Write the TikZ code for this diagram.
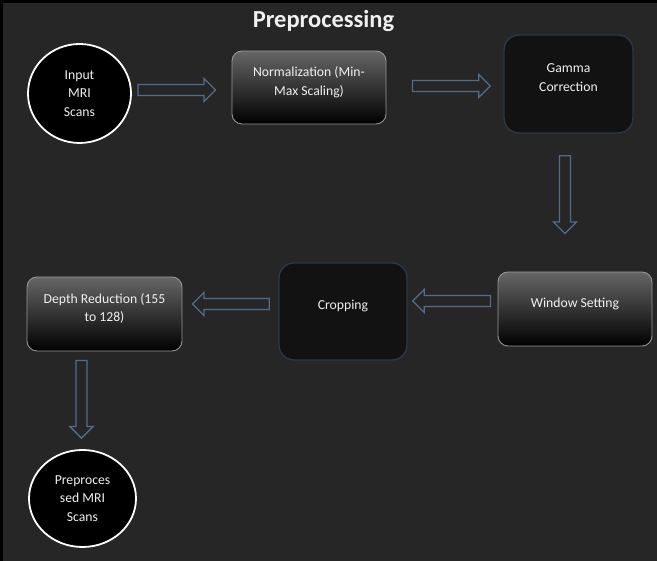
\documentclass[tikz,border=0pt]{standalone}
\usepackage{fontspec}
\setmainfont{Carlito}
\usetikzlibrary{calc,shapes.geometric}

\definecolor{bggray}{RGB}{38,38,38}
\definecolor{arrowblue}{RGB}{82,108,138}
\definecolor{darkedge}{RGB}{42,56,72}
\definecolor{darkfill}{RGB}{18,18,18}
\definecolor{lightedge}{RGB}{150,150,150}
\definecolor{textwhite}{RGB}{240,240,240}

% hollow block arrow between two points
\newcommand{\blockarrow}[2]{%
  \coordinate (ba-s) at #1;
  \coordinate (ba-e) at #2;
  \coordinate (ba-h) at ($(ba-e)!11.5pt!(ba-s)$);
  \draw[arrowline] ($(ba-s)!5.5pt!90:(ba-e)$) -- ($(ba-h)!5.5pt!90:(ba-e)$)
    -- ($(ba-h)!11.5pt!90:(ba-e)$) -- (ba-e) -- ($(ba-h)!11.5pt!-90:(ba-e)$)
    -- ($(ba-h)!5.5pt!-90:(ba-e)$) -- ($(ba-s)!5.5pt!-90:(ba-e)$) -- cycle;
}

\begin{document}
\begin{tikzpicture}[
  x=1pt, y=1pt,
  every node/.style={text=textwhite, font=\fontsize{13.7}{18.5}\selectfont, align=center},
  scan/.style={draw=white, line width=1.8pt, fill=black, ellipse, inner sep=0pt},
  raised/.style={execute at end node={\rule[-13pt]{0pt}{1pt}}},
  shadebox/.style={raised, draw=lightedge, line width=0.9pt, rounded corners=10pt,
    top color=gray!80!black, middle color=black, bottom color=black,
    minimum width=154pt, minimum height=74pt, inner sep=0pt},
  darkbox/.style={raised, draw=darkedge, line width=1.4pt, rounded corners=15pt, fill=darkfill,
    minimum width=128pt, minimum height=97pt, inner sep=0pt},
  arrowline/.style={draw=arrowblue, line width=1.3pt, line join=miter}
]
\useasboundingbox (0,0) rectangle (657,561);

% Background
\fill[black] (0,0) rectangle (657,561);
\fill[bggray] (3,0) rectangle (657,558);

% Title
\node[font=\fontsize{24.5}{28}\bfseries\selectfont, anchor=base] (title) at (323.5,533) {Preprocessing};

% Top row
\node[scan, minimum width=103pt, minimum height=99pt] (input) at (79.5,467.5) {Input\\MRI\\Scans};
\node[shadebox, minimum height=73pt] (norm) at (309,473.5) {Normalization (Min-\\Max Scaling)};
\node[darkbox, minimum width=129pt, minimum height=98pt] (gamma) at (568.5,477) {Gamma\\Correction};

% Middle row
\node[shadebox] (window) at (575,252) {Window Setting};
\node[darkbox] (crop) at (343,249.5) {Cropping};
\node[shadebox, minimum width=155pt] (depth) at (104.5,247) {Depth Reduction (155\\to 128)};

% Output
\node[scan, minimum width=107pt, minimum height=97pt] (output) at (82.5,62.5) {Preproces\\sed MRI\\Scans};

% Connectors
\blockarrow{([xshift=6pt,yshift=3.5pt]input.east)}{([xshift=-16pt,yshift=-2.5pt]norm.west)}
\blockarrow{([xshift=26pt,yshift=1.5pt]norm.east)}{([xshift=-13pt,yshift=-2pt]gamma.west)}
\blockarrow{([xshift=-3.5pt,yshift=-22pt]gamma.south)}{([xshift=-10pt,yshift=38pt]window.north)}
\blockarrow{([xshift=-7pt,yshift=8pt]window.west)}{([xshift=5pt,yshift=10.5pt]crop.east)}
\blockarrow{([xshift=-9pt,yshift=7.5pt]crop.west)}{([xshift=10pt,yshift=10pt]depth.east)}
\blockarrow{([xshift=-23pt,yshift=-9pt]depth.south)}{([xshift=-1pt,yshift=11pt]output.north)}

\end{tikzpicture}
\end{document}
